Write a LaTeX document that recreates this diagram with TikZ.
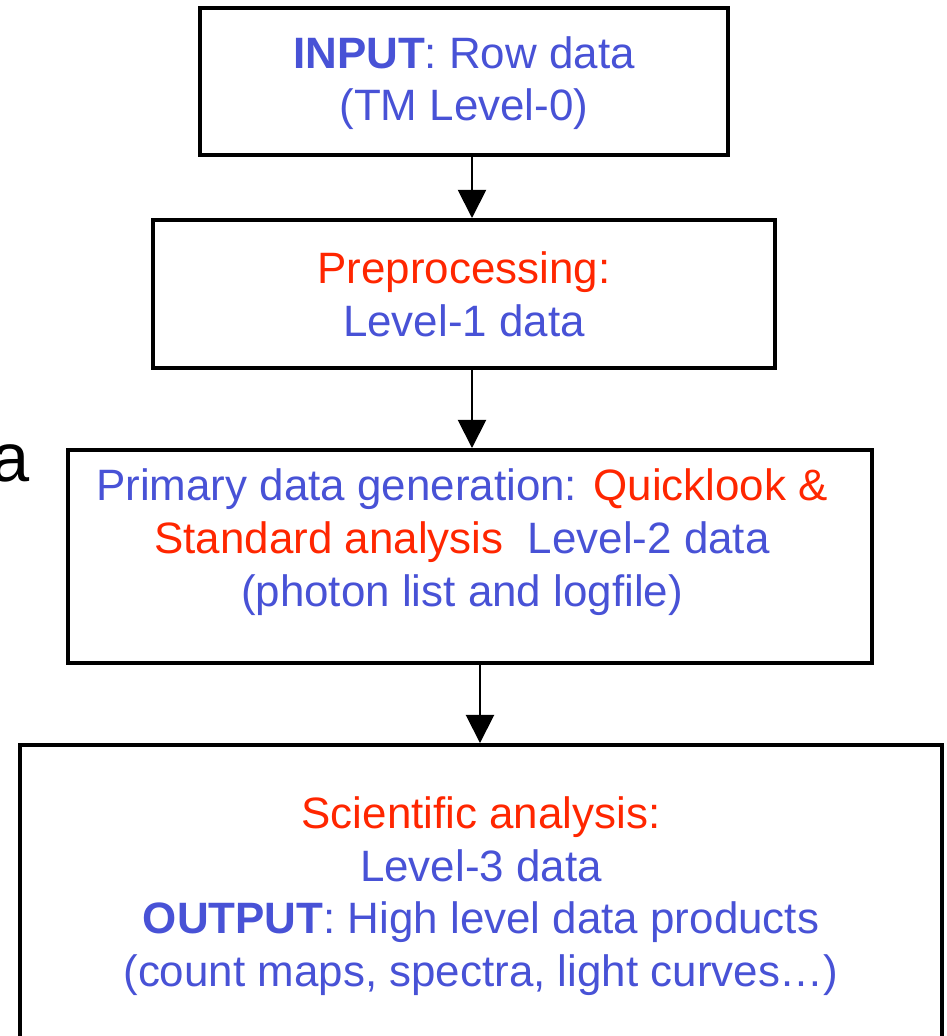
\documentclass[tikz,border=0pt]{standalone}
\usepackage{fontspec}
\setmainfont{Liberation Sans}
\usetikzlibrary{arrows.meta}
\definecolor{txtblue}{RGB}{72,82,214}
\definecolor{txtred}{RGB}{255,38,0}

\begin{document}
\begin{tikzpicture}[x=0.02cm, y=-0.02cm,
		style={align=center, font=\fontsize{25}{30}\selectfont, text=txtblue},
		box/.style={draw=black, line width=2.3pt, inner sep=0pt},
		arr/.style={-{Triangle[length=16pt, width=16pt]}, line width=1.1pt}]
		
		\clip (0,0) rectangle (947,1036);
		\node[font=\fontsize{39}{40}\selectfont, text=black, anchor=base east, inner sep=0pt] (edgeA) at (30,481) {a};
		
		\node[box, minimum width=10.56cm, minimum height=2.94cm] (inp) at (464,81.5) {};
		\node (inpT) at (464,83) {\textbf{INPUT}: Row data\\(TM Level-0)};
		\node[box, minimum width=12.44cm, minimum height=2.96cm] (pre) at (464,294) {};
		\node (preT) at (pre) {\textcolor{txtred}{Preprocessing:}\\Level-1 data};
		\node[box, minimum width=16.08cm, minimum height=4.26cm] (gen) at (470,556.5) {};
		\node (genT) at (462,542) {Primary data generation: \textcolor{txtred}{Quicklook \&}\\\textcolor{txtred}{Standard analysis}\ \ Level-2 data\\(photon list and logfile)};
		\node[box, minimum width=18.44cm, minimum height=6.1cm] (sci) at (481,897.5) {};
		\node (sciT) at (481,896) {\textcolor{txtred}{Scientific analysis:}\\Level-3 data\\\textbf{OUTPUT}: High level data products\\(count maps, spectra, light curves…)};
		
		\draw[arr] ([xshift=0.16cm]inp.south) -- ([xshift=0.16cm]inp.south |- pre.north);
		\draw[arr] ([xshift=0.16cm]pre.south) -- ([xshift=0.16cm]pre.south |- gen.north);
		\draw[arr] ([xshift=0.2cm]gen.south) -- ([xshift=0.2cm]gen.south |- sci.north);
		\end{tikzpicture}
\end{document}
